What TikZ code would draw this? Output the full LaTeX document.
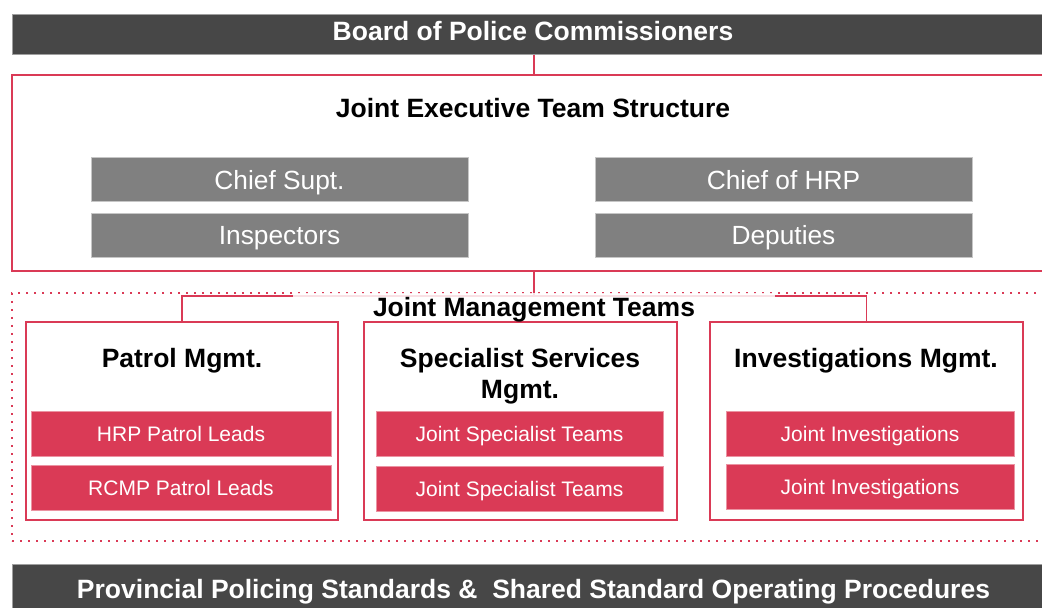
\documentclass[tikz,border=0pt]{standalone}
\usepackage{fontspec}
\setmainfont{Liberation Sans}
\definecolor{dgray}{HTML}{474747}
\definecolor{mgray}{HTML}{808080}
\definecolor{jred}{HTML}{DA3A56}
\tikzset{
  bar/.style={fill=dgray, draw=gray!75, line width=1pt, minimum width=1044pt, minimum height=40pt, inner sep=0pt},
  bartext/.style={text=white, font=\fontsize{26.5}{28}\selectfont\bfseries, inner sep=0pt, text height=19pt, text depth=0pt},
  graybox/.style={fill=mgray, draw=gray!45, line width=1pt, minimum width=377pt, minimum height=44pt, text=white, font=\fontsize{26.3}{28}\selectfont, inner sep=0pt, text height=19pt, text depth=0pt},
  redbox/.style={fill=jred, draw=jred!55, line width=0.8pt, minimum height=45pt, text=white, font=\fontsize{21}{24}\selectfont, inner sep=0pt, text height=15pt, text depth=0pt},
  mgmt/.style={draw=jred, line width=1.5pt, fill=white, minimum width=312pt, minimum height=198pt, inner sep=0pt},
  outerbox/.style={draw=jred, line width=2pt, minimum width=1044pt, minimum height=196pt, inner sep=0pt},
  dotframe/.style={draw=jred, line width=1.6pt, dash pattern=on 1.6pt off 6.4pt, minimum width=1044pt, minimum height=248pt, inner sep=0pt},
  conn/.style={draw=jred, line width=1.5pt},
  ttl/.style={font=\fontsize{26.5}{32}\selectfont\bfseries, text=black, inner sep=0pt, text height=19pt, text depth=0pt},
}
\begin{document}
\begin{tikzpicture}[x=1pt,y=-1pt]
\useasboundingbox (0,0) rectangle (1042,608);
\fill[white] (0,0) rectangle (1042,608);
% top bar
\node[bar] (board) at (534,34) {};
\node[bartext] (boardtext) at (533,30.5) {Board of Police Commissioners};
% executive box
\node[outerbox] (exec) at (534,173) {};
\node[ttl] (exectitle) at (533,108) {Joint Executive Team Structure};
\node[graybox] (chief) at (279.5,179.5) {Chief Supt.};
\node[graybox] (insp) at (279.5,235) {Inspectors};
\node[graybox] (hrp) at (783.5,179.5) {Chief of HRP};
\node[graybox] (dep) at (783.5,235) {Deputies};
% dotted frame
\node[dotframe] (frame) at (534,417) {};
% connectors
\coordinate (jm) at (534,296);
\draw[conn] (board.south) -- (board.south |- exec.north);
\draw[conn] (exec.south) -- (jm);
% management boxes
\node[mgmt] (patrol) at (182,421) {};
\node[mgmt, minimum width=313pt] (spec) at (520.5,421) {};
\node[mgmt, minimum width=313pt] (inv) at (866.5,421) {};
\draw[conn] (patrol.north) |- (jm) -| (inv.north);
\node[fill=white, fill opacity=0.85, text opacity=1, minimum width=482pt, minimum height=26pt, inner sep=0pt] (jmbg) at (534,306) {};
\node[ttl] (jmlabel) at (534,306.5) {Joint Management Teams};
% titles
\node[ttl] (patroltitle) at (182,357.5) {Patrol Mgmt.};
\node[ttl] (spectitle) at (520,357.5) {Specialist Services};
\node[ttl] (spectitle2) at (520,389) {Mgmt.};
\node[ttl] (invtitle) at (866,357.5) {Investigations Mgmt.};
% red boxes
\node[redbox, minimum width=300pt] (hrpl) at (181,434) {HRP Patrol Leads};
\node[redbox, minimum width=300pt] (rcmpl) at (181,487.5) {RCMP Patrol Leads};
\node[redbox, minimum width=287pt] (js1) at (519.5,433.5) {Joint Specialist Teams};
\node[redbox, minimum width=287pt] (js2) at (519.5,488.5) {Joint Specialist Teams};
\node[redbox, minimum width=288pt] (ji1) at (870,434) {Joint Investigations};
\node[redbox, minimum width=288pt] (ji2) at (870,487) {Joint Investigations};
% bottom bar
\node[bar, minimum height=50pt] (prov) at (534,589) {};
\node[bartext] (provtext) at (533.5,589) {Provincial Policing Standards \&\ \ Shared Standard Operating Procedures};
\end{tikzpicture}
\end{document}
